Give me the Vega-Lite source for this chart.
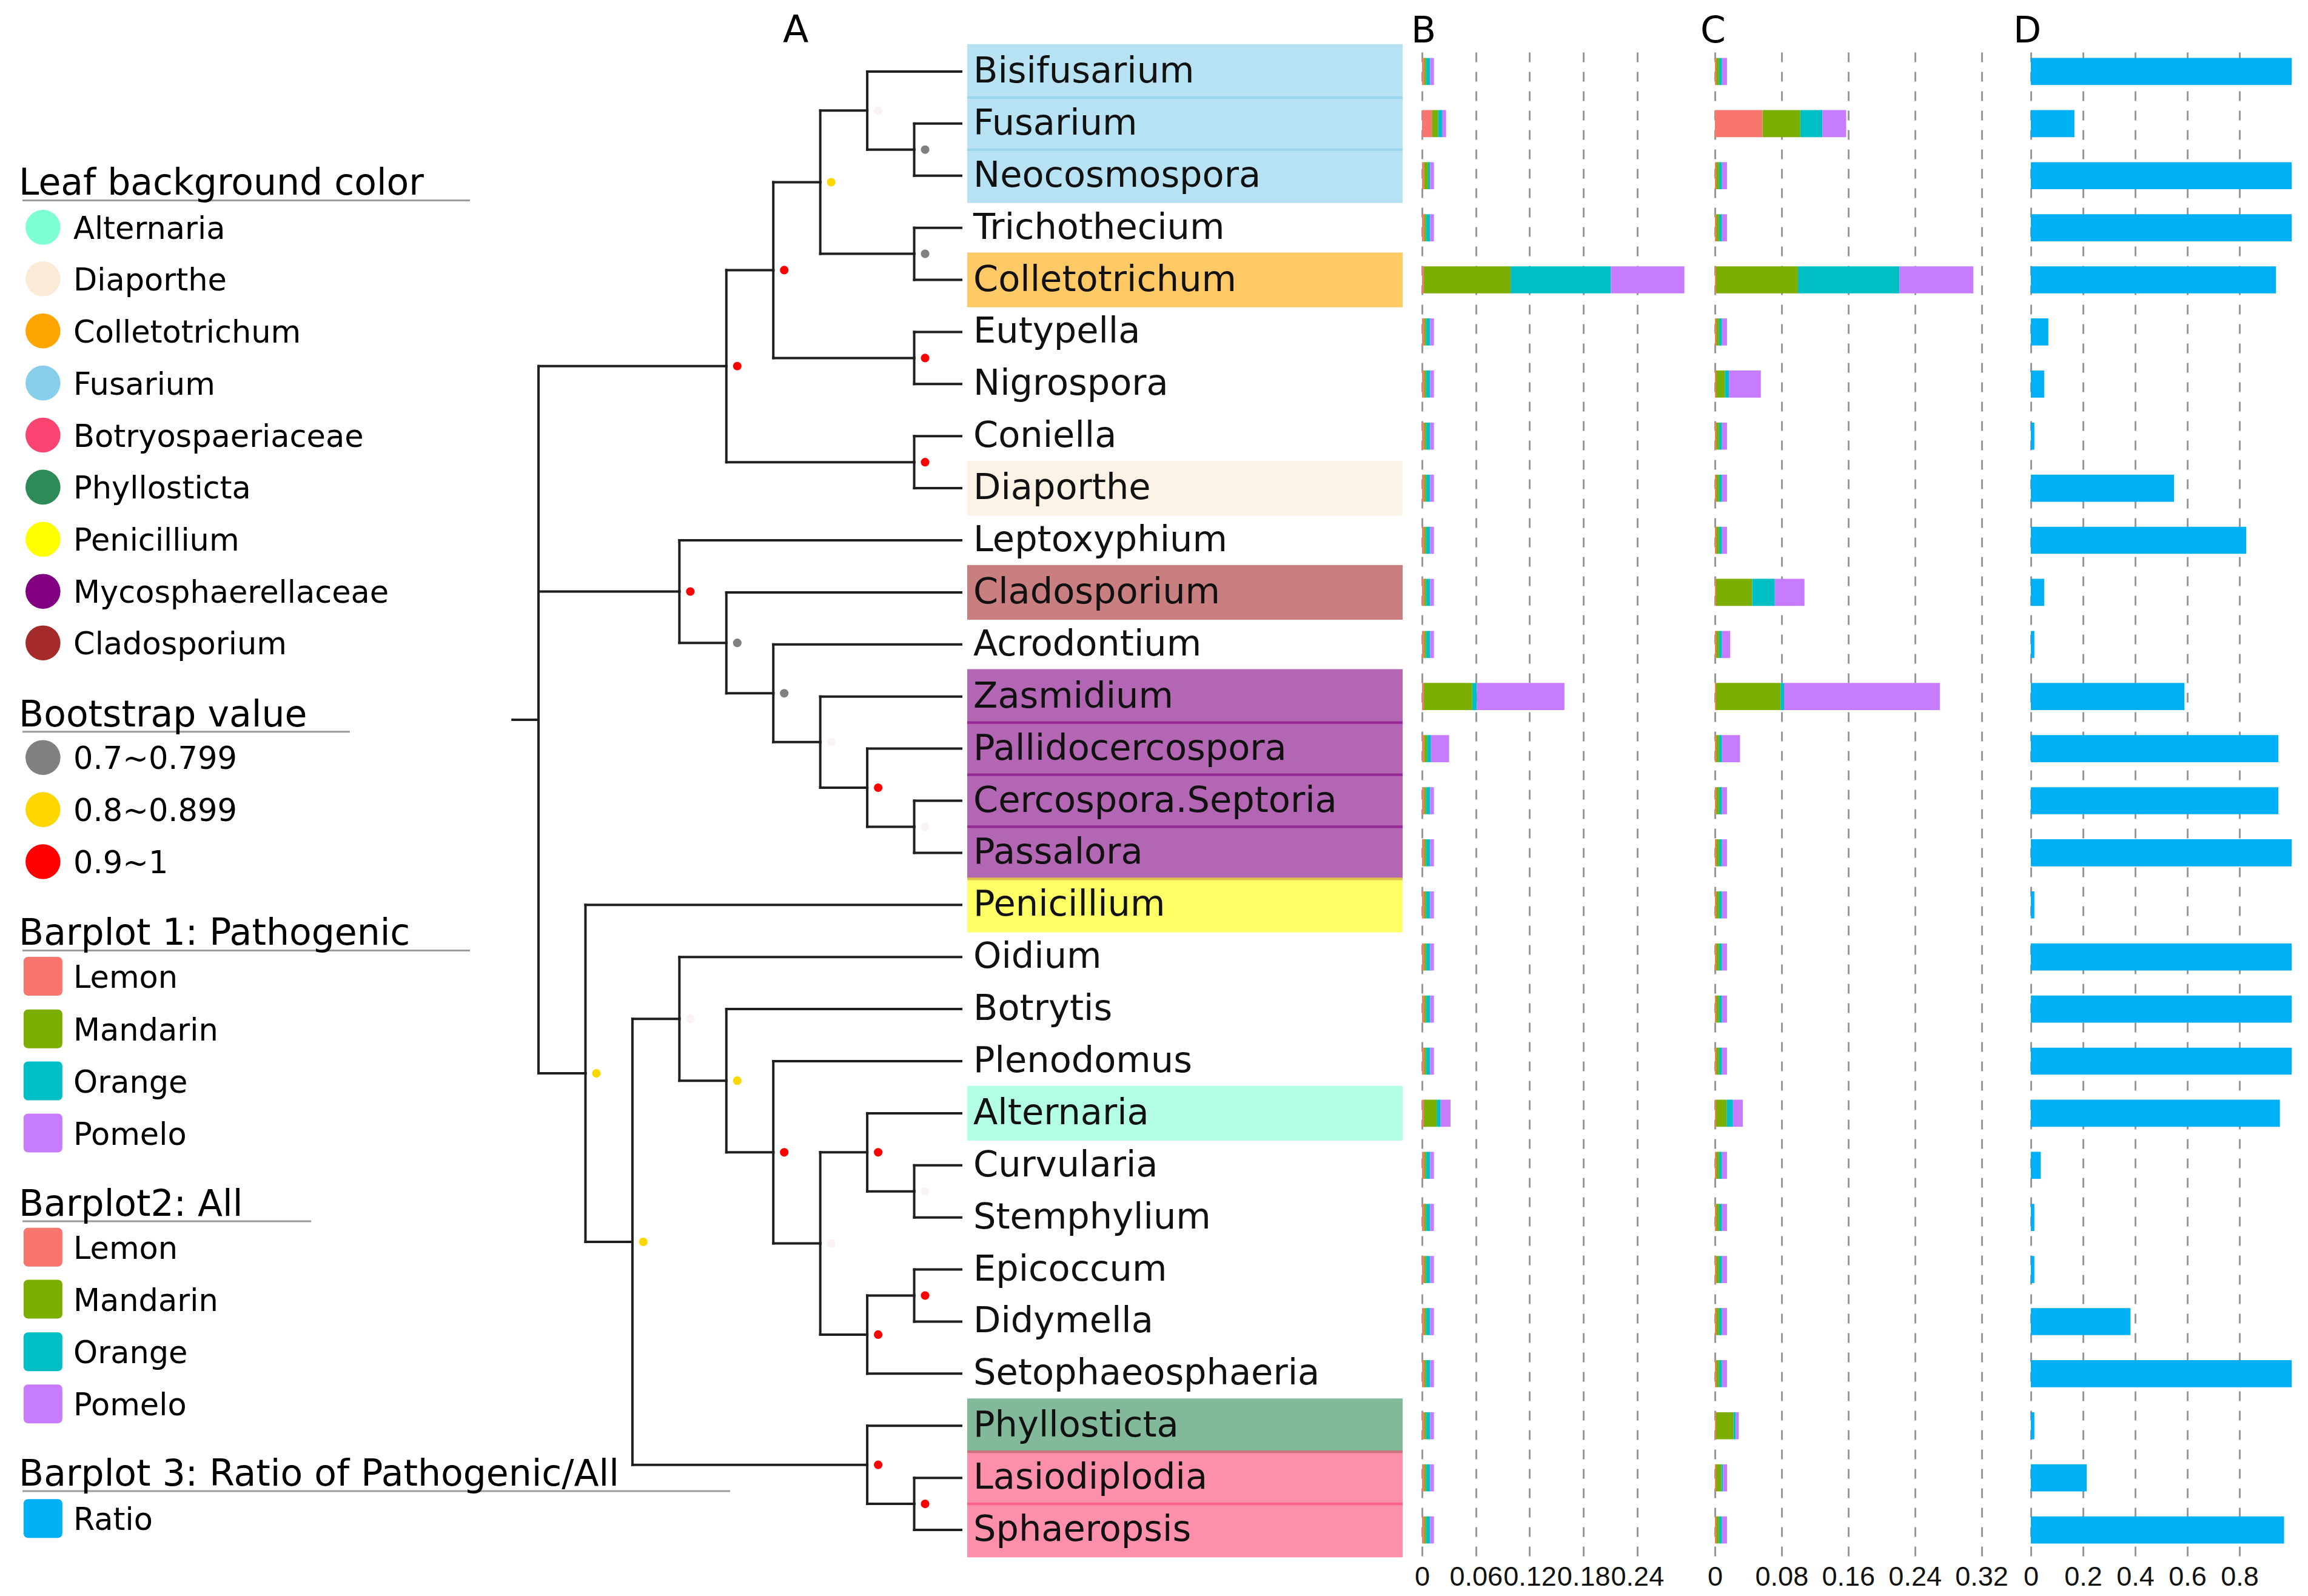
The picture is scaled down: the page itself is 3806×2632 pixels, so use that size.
{
  "$schema": "https://vega.github.io/schema/vega-lite/v6.json",
  "background": "white",
  "padding": {"left": 0, "top": 20, "right": 0, "bottom": 10},
  "bounds": "flush",
  "spacing": 32,
  "config": {
    "view": {"stroke": null},
    "font": "DejaVu Sans",
    "title": {"font": "DejaVu Sans", "fontWeight": "normal", "color": "#000000"},
    "axisX": {
      "grid": true, "gridDash": [16, 16], "gridColor": "#999999", "gridWidth": 3,
      "domain": false, "ticks": false, "tickSize": 0,
      "labelFontSize": 45, "labelFont": "Liberation Sans", "labelColor": "#111111",
      "labelPadding": 12, "labelFlush": false, "labelOverlap": false,
      "labelExpr": "format(datum.value, '~g')"
    }
  },
  "datasets": {
    "tree": [
      {"name": "root", "depth": 0, "y": 13.445, "pdepth": -0.55, "py": 13.445, "boot": null, "group": null},
      {"name": "n_C", "depth": 4, "y": 6.656, "pdepth": 0, "py": 13.445, "boot": "0.9~1", "group": null},
      {"name": "n_B", "depth": 5, "y": 4.8125, "pdepth": 4, "py": 6.656, "boot": "0.9~1", "group": null},
      {"name": "n_A", "depth": 6, "y": 3.125, "pdepth": 5, "py": 4.8125, "boot": "0.8~0.899", "group": null},
      {"name": "n_BFN", "depth": 7, "y": 1.75, "pdepth": 6, "py": 3.125, "boot": "<0.7", "group": null},
      {"name": "n_FN", "depth": 8, "y": 2.5, "pdepth": 7, "py": 1.75, "boot": "0.7~0.799", "group": null},
      {"name": "n_TC", "depth": 8, "y": 4.5, "pdepth": 6, "py": 3.125, "boot": "0.7~0.799", "group": null},
      {"name": "n_EN", "depth": 8, "y": 6.5, "pdepth": 5, "py": 4.8125, "boot": "0.9~1", "group": null},
      {"name": "n_CD", "depth": 8, "y": 8.5, "pdepth": 4, "py": 6.656, "boot": "0.9~1", "group": null},
      {"name": "n_D", "depth": 3, "y": 10.984, "pdepth": 0, "py": 13.445, "boot": "0.9~1", "group": null},
      {"name": "n_E", "depth": 4, "y": 11.969, "pdepth": 3, "py": 10.984, "boot": "0.7~0.799", "group": null},
      {"name": "n_F", "depth": 5, "y": 12.9375, "pdepth": 4, "py": 11.969, "boot": "0.7~0.799", "group": null},
      {"name": "n_G", "depth": 6, "y": 13.875, "pdepth": 5, "py": 12.9375, "boot": "<0.7", "group": null},
      {"name": "n_H", "depth": 7, "y": 14.75, "pdepth": 6, "py": 13.875, "boot": "0.9~1", "group": null},
      {"name": "n_I", "depth": 8, "y": 15.5, "pdepth": 7, "py": 14.75, "boot": "<0.7", "group": null},
      {"name": "n_J", "depth": 1, "y": 20.234, "pdepth": 0, "py": 13.445, "boot": "0.8~0.899", "group": null},
      {"name": "n_K", "depth": 2, "y": 23.469, "pdepth": 1, "py": 20.234, "boot": "0.8~0.899", "group": null},
      {"name": "n_L", "depth": 3, "y": 19.1875, "pdepth": 2, "py": 23.469, "boot": "<0.7", "group": null},
      {"name": "n_N", "depth": 4, "y": 20.375, "pdepth": 3, "py": 19.1875, "boot": "0.8~0.899", "group": null},
      {"name": "n_O", "depth": 5, "y": 21.75, "pdepth": 4, "py": 20.375, "boot": "0.9~1", "group": null},
      {"name": "n_P", "depth": 6, "y": 23.5, "pdepth": 5, "py": 21.75, "boot": "<0.7", "group": null},
      {"name": "n_Q", "depth": 7, "y": 21.75, "pdepth": 6, "py": 23.5, "boot": "0.9~1", "group": null},
      {"name": "n_S", "depth": 8, "y": 22.5, "pdepth": 7, "py": 21.75, "boot": "<0.7", "group": null},
      {"name": "n_R", "depth": 7, "y": 25.25, "pdepth": 6, "py": 23.5, "boot": "0.9~1", "group": null},
      {"name": "n_T", "depth": 8, "y": 24.5, "pdepth": 7, "py": 25.25, "boot": "0.9~1", "group": null},
      {"name": "n_M", "depth": 7, "y": 27.75, "pdepth": 2, "py": 23.469, "boot": "0.9~1", "group": null},
      {"name": "n_U", "depth": 8, "y": 28.5, "pdepth": 7, "py": 27.75, "boot": "0.9~1", "group": null},
      {"name": "Bisifusarium", "depth": 9, "y": 1, "pdepth": 7, "py": 1.75, "boot": null, "group": "Fusarium"},
      {"name": "Fusarium", "depth": 9, "y": 2, "pdepth": 8, "py": 2.5, "boot": null, "group": "Fusarium"},
      {"name": "Neocosmospora", "depth": 9, "y": 3, "pdepth": 8, "py": 2.5, "boot": null, "group": "Fusarium"},
      {"name": "Trichothecium", "depth": 9, "y": 4, "pdepth": 8, "py": 4.5, "boot": null, "group": null},
      {"name": "Colletotrichum", "depth": 9, "y": 5, "pdepth": 8, "py": 4.5, "boot": null, "group": "Colletotrichum"},
      {"name": "Eutypella", "depth": 9, "y": 6, "pdepth": 8, "py": 6.5, "boot": null, "group": null},
      {"name": "Nigrospora", "depth": 9, "y": 7, "pdepth": 8, "py": 6.5, "boot": null, "group": null},
      {"name": "Coniella", "depth": 9, "y": 8, "pdepth": 8, "py": 8.5, "boot": null, "group": null},
      {"name": "Diaporthe", "depth": 9, "y": 9, "pdepth": 8, "py": 8.5, "boot": null, "group": "Diaporthe"},
      {"name": "Leptoxyphium", "depth": 9, "y": 10, "pdepth": 3, "py": 10.984, "boot": null, "group": null},
      {"name": "Cladosporium", "depth": 9, "y": 11, "pdepth": 4, "py": 11.969, "boot": null, "group": "Cladosporium"},
      {"name": "Acrodontium", "depth": 9, "y": 12, "pdepth": 5, "py": 12.9375, "boot": null, "group": null},
      {"name": "Zasmidium", "depth": 9, "y": 13, "pdepth": 6, "py": 13.875, "boot": null, "group": "Mycosphaerellaceae"},
      {"name": "Pallidocercospora", "depth": 9, "y": 14, "pdepth": 7, "py": 14.75, "boot": null, "group": "Mycosphaerellaceae"},
      {"name": "Cercospora.Septoria", "depth": 9, "y": 15, "pdepth": 8, "py": 15.5, "boot": null, "group": "Mycosphaerellaceae"},
      {"name": "Passalora", "depth": 9, "y": 16, "pdepth": 8, "py": 15.5, "boot": null, "group": "Mycosphaerellaceae"},
      {"name": "Penicillium", "depth": 9, "y": 17, "pdepth": 1, "py": 20.234, "boot": null, "group": "Penicillium"},
      {"name": "Oidium", "depth": 9, "y": 18, "pdepth": 3, "py": 19.1875, "boot": null, "group": null},
      {"name": "Botrytis", "depth": 9, "y": 19, "pdepth": 4, "py": 20.375, "boot": null, "group": null},
      {"name": "Plenodomus", "depth": 9, "y": 20, "pdepth": 5, "py": 21.75, "boot": null, "group": null},
      {"name": "Alternaria", "depth": 9, "y": 21, "pdepth": 7, "py": 21.75, "boot": null, "group": "Alternaria"},
      {"name": "Curvularia", "depth": 9, "y": 22, "pdepth": 8, "py": 22.5, "boot": null, "group": null},
      {"name": "Stemphylium", "depth": 9, "y": 23, "pdepth": 8, "py": 22.5, "boot": null, "group": null},
      {"name": "Epicoccum", "depth": 9, "y": 24, "pdepth": 8, "py": 24.5, "boot": null, "group": null},
      {"name": "Didymella", "depth": 9, "y": 25, "pdepth": 8, "py": 24.5, "boot": null, "group": null},
      {"name": "Setophaeosphaeria", "depth": 9, "y": 26, "pdepth": 7, "py": 25.25, "boot": null, "group": null},
      {"name": "Phyllosticta", "depth": 9, "y": 27, "pdepth": 7, "py": 27.75, "boot": null, "group": "Phyllosticta"},
      {"name": "Lasiodiplodia", "depth": 9, "y": 28, "pdepth": 8, "py": 28.5, "boot": null, "group": "Botryospaeriaceae"},
      {"name": "Sphaeropsis", "depth": 9, "y": 29, "pdepth": 8, "py": 28.5, "boot": null, "group": "Botryospaeriaceae"}
    ],
    "legendTitles": [
      {"label": "Leaf background color", "line": 3.369, "x0": -10.989, "ul": -1.459},
      {"label": "Bootstrap value", "line": 13.57, "x0": -10.989, "ul": -4.016},
      {"label": "Barplot 1: Pathogenic", "line": 17.77, "x0": -10.989, "ul": -1.459},
      {"label": "Barplot2: All", "line": 22.97, "x0": -10.989, "ul": -4.842},
      {"label": "Barplot 3: Ratio of Pathogenic/All", "line": 28.15, "x0": -10.989, "ul": 4.08}
    ],
    "legendItems": [
      {"section": "Leaf background color", "label": "Alternaria", "line": 3.99},
      {"section": "Leaf background color", "label": "Diaporthe", "line": 4.98},
      {"section": "Leaf background color", "label": "Colletotrichum", "line": 5.98},
      {"section": "Leaf background color", "label": "Fusarium", "line": 6.98},
      {"section": "Leaf background color", "label": "Botryospaeriaceae", "line": 7.98},
      {"section": "Leaf background color", "label": "Phyllosticta", "line": 8.98},
      {"section": "Leaf background color", "label": "Penicillium", "line": 9.98},
      {"section": "Leaf background color", "label": "Mycosphaerellaceae", "line": 10.98},
      {"section": "Leaf background color", "label": "Cladosporium", "line": 11.97},
      {"section": "Bootstrap value", "label": "0.7~0.799", "line": 14.17},
      {"section": "Bootstrap value", "label": "0.8~0.899", "line": 15.17},
      {"section": "Bootstrap value", "label": "0.9~1", "line": 16.17},
      {"section": "Barplot 1: Pathogenic", "label": "Lemon", "line": 18.37},
      {"section": "Barplot 1: Pathogenic", "label": "Mandarin", "line": 19.38},
      {"section": "Barplot 1: Pathogenic", "label": "Orange", "line": 20.38},
      {"section": "Barplot 1: Pathogenic", "label": "Pomelo", "line": 21.38},
      {"section": "Barplot2: All", "label": "Lemon", "line": 23.57},
      {"section": "Barplot2: All", "label": "Mandarin", "line": 24.57},
      {"section": "Barplot2: All", "label": "Orange", "line": 25.58},
      {"section": "Barplot2: All", "label": "Pomelo", "line": 26.58},
      {"section": "Barplot 3: Ratio of Pathogenic/All", "label": "Ratio", "line": 28.78}
    ],
    "pathogenic": [
      {"genus": "Bisifusarium", "Lemon": 0.0022, "Mandarin": 0.0023, "Orange": 0.0045, "Pomelo": 0.0043},
      {"genus": "Fusarium", "Lemon": 0.011, "Mandarin": 0.0068, "Orange": 0.0045, "Pomelo": 0.0045},
      {"genus": "Neocosmospora", "Lemon": 0.0022, "Mandarin": 0.0045, "Orange": 0.0023, "Pomelo": 0.0043},
      {"genus": "Trichothecium", "Lemon": 0.0022, "Mandarin": 0.0023, "Orange": 0.0045, "Pomelo": 0.0043},
      {"genus": "Colletotrichum", "Lemon": 0.002, "Mandarin": 0.0968, "Orange": 0.1118, "Pomelo": 0.082},
      {"genus": "Eutypella", "Lemon": 0.0022, "Mandarin": 0.0023, "Orange": 0.0045, "Pomelo": 0.0043},
      {"genus": "Nigrospora", "Lemon": 0.0022, "Mandarin": 0.0023, "Orange": 0.0045, "Pomelo": 0.0043},
      {"genus": "Coniella", "Lemon": 0.0022, "Mandarin": 0.0023, "Orange": 0.0045, "Pomelo": 0.0043},
      {"genus": "Diaporthe", "Lemon": 0.0022, "Mandarin": 0.0023, "Orange": 0.0045, "Pomelo": 0.0043},
      {"genus": "Leptoxyphium", "Lemon": 0.0022, "Mandarin": 0.0023, "Orange": 0.0045, "Pomelo": 0.0043},
      {"genus": "Cladosporium", "Lemon": 0.0022, "Mandarin": 0.0023, "Orange": 0.0045, "Pomelo": 0.0043},
      {"genus": "Acrodontium", "Lemon": 0.0022, "Mandarin": 0.0023, "Orange": 0.0045, "Pomelo": 0.0043},
      {"genus": "Zasmidium", "Lemon": 0.002, "Mandarin": 0.054, "Orange": 0.0052, "Pomelo": 0.0976},
      {"genus": "Pallidocercospora", "Lemon": 0.0022, "Mandarin": 0.0033, "Orange": 0.0045, "Pomelo": 0.0202},
      {"genus": "Cercospora.Septoria", "Lemon": 0.0022, "Mandarin": 0.0023, "Orange": 0.0045, "Pomelo": 0.0043},
      {"genus": "Passalora", "Lemon": 0.0022, "Mandarin": 0.0023, "Orange": 0.0045, "Pomelo": 0.0043},
      {"genus": "Penicillium", "Lemon": 0.0022, "Mandarin": 0.0023, "Orange": 0.0045, "Pomelo": 0.0043},
      {"genus": "Oidium", "Lemon": 0.0022, "Mandarin": 0.0023, "Orange": 0.0045, "Pomelo": 0.0043},
      {"genus": "Botrytis", "Lemon": 0.0022, "Mandarin": 0.0023, "Orange": 0.0045, "Pomelo": 0.0043},
      {"genus": "Plenodomus", "Lemon": 0.0022, "Mandarin": 0.0023, "Orange": 0.0045, "Pomelo": 0.0043},
      {"genus": "Alternaria", "Lemon": 0.002, "Mandarin": 0.0143, "Orange": 0.0045, "Pomelo": 0.011},
      {"genus": "Curvularia", "Lemon": 0.0022, "Mandarin": 0.0023, "Orange": 0.0045, "Pomelo": 0.0043},
      {"genus": "Stemphylium", "Lemon": 0.0022, "Mandarin": 0.0023, "Orange": 0.0045, "Pomelo": 0.0043},
      {"genus": "Epicoccum", "Lemon": 0.0022, "Mandarin": 0.0023, "Orange": 0.0045, "Pomelo": 0.0043},
      {"genus": "Didymella", "Lemon": 0.0022, "Mandarin": 0.0023, "Orange": 0.0045, "Pomelo": 0.0043},
      {"genus": "Setophaeosphaeria", "Lemon": 0.0022, "Mandarin": 0.0023, "Orange": 0.0045, "Pomelo": 0.0043},
      {"genus": "Phyllosticta", "Lemon": 0.0022, "Mandarin": 0.0023, "Orange": 0.0045, "Pomelo": 0.0043},
      {"genus": "Lasiodiplodia", "Lemon": 0.0022, "Mandarin": 0.0023, "Orange": 0.0045, "Pomelo": 0.0043},
      {"genus": "Sphaeropsis", "Lemon": 0.0022, "Mandarin": 0.0023, "Orange": 0.0045, "Pomelo": 0.0043}
    ],
    "all": [
      {"genus": "Bisifusarium", "Lemon": 0.0015, "Mandarin": 0.0035, "Orange": 0.0035, "Pomelo": 0.006},
      {"genus": "Fusarium", "Lemon": 0.0572, "Mandarin": 0.0453, "Orange": 0.0265, "Pomelo": 0.0286},
      {"genus": "Neocosmospora", "Lemon": 0.0015, "Mandarin": 0.0035, "Orange": 0.0035, "Pomelo": 0.006},
      {"genus": "Trichothecium", "Lemon": 0.0015, "Mandarin": 0.0035, "Orange": 0.0035, "Pomelo": 0.006},
      {"genus": "Colletotrichum", "Lemon": 0.0014, "Mandarin": 0.0983, "Orange": 0.122, "Pomelo": 0.0886},
      {"genus": "Eutypella", "Lemon": 0.0015, "Mandarin": 0.0035, "Orange": 0.0035, "Pomelo": 0.006},
      {"genus": "Nigrospora", "Lemon": 0.0014, "Mandarin": 0.0105, "Orange": 0.0049, "Pomelo": 0.0383},
      {"genus": "Coniella", "Lemon": 0.0015, "Mandarin": 0.0035, "Orange": 0.0035, "Pomelo": 0.006},
      {"genus": "Diaporthe", "Lemon": 0.0015, "Mandarin": 0.0035, "Orange": 0.0035, "Pomelo": 0.006},
      {"genus": "Leptoxyphium", "Lemon": 0.0015, "Mandarin": 0.0035, "Orange": 0.0035, "Pomelo": 0.006},
      {"genus": "Cladosporium", "Lemon": 0.0014, "Mandarin": 0.0433, "Orange": 0.0272, "Pomelo": 0.0356},
      {"genus": "Acrodontium", "Lemon": 0.0015, "Mandarin": 0.0035, "Orange": 0.0035, "Pomelo": 0.0098},
      {"genus": "Zasmidium", "Lemon": 0.0014, "Mandarin": 0.0774, "Orange": 0.0042, "Pomelo": 0.187},
      {"genus": "Pallidocercospora", "Lemon": 0.0015, "Mandarin": 0.0035, "Orange": 0.0035, "Pomelo": 0.0216},
      {"genus": "Cercospora.Septoria", "Lemon": 0.0015, "Mandarin": 0.0035, "Orange": 0.0035, "Pomelo": 0.006},
      {"genus": "Passalora", "Lemon": 0.0015, "Mandarin": 0.0035, "Orange": 0.0035, "Pomelo": 0.006},
      {"genus": "Penicillium", "Lemon": 0.0015, "Mandarin": 0.0035, "Orange": 0.0035, "Pomelo": 0.006},
      {"genus": "Oidium", "Lemon": 0.0015, "Mandarin": 0.0035, "Orange": 0.0035, "Pomelo": 0.006},
      {"genus": "Botrytis", "Lemon": 0.0015, "Mandarin": 0.0035, "Orange": 0.0035, "Pomelo": 0.006},
      {"genus": "Plenodomus", "Lemon": 0.0015, "Mandarin": 0.0035, "Orange": 0.0035, "Pomelo": 0.006},
      {"genus": "Alternaria", "Lemon": 0.0014, "Mandarin": 0.0126, "Orange": 0.0077, "Pomelo": 0.0118},
      {"genus": "Curvularia", "Lemon": 0.0015, "Mandarin": 0.0035, "Orange": 0.0035, "Pomelo": 0.006},
      {"genus": "Stemphylium", "Lemon": 0.0015, "Mandarin": 0.0035, "Orange": 0.0035, "Pomelo": 0.006},
      {"genus": "Epicoccum", "Lemon": 0.0015, "Mandarin": 0.0035, "Orange": 0.0035, "Pomelo": 0.006},
      {"genus": "Didymella", "Lemon": 0.0015, "Mandarin": 0.0035, "Orange": 0.0035, "Pomelo": 0.006},
      {"genus": "Setophaeosphaeria", "Lemon": 0.0015, "Mandarin": 0.0035, "Orange": 0.0035, "Pomelo": 0.006},
      {"genus": "Phyllosticta", "Lemon": 0.0014, "Mandarin": 0.0209, "Orange": 0.0028, "Pomelo": 0.0035},
      {"genus": "Lasiodiplodia", "Lemon": 0.0014, "Mandarin": 0.0063, "Orange": 0.0021, "Pomelo": 0.0049},
      {"genus": "Sphaeropsis", "Lemon": 0.0015, "Mandarin": 0.0035, "Orange": 0.0035, "Pomelo": 0.006}
    ],
    "ratio": [
      {"genus": "Bisifusarium", "ratio": 1.0},
      {"genus": "Fusarium", "ratio": 0.167},
      {"genus": "Neocosmospora", "ratio": 1.0},
      {"genus": "Trichothecium", "ratio": 1.0},
      {"genus": "Colletotrichum", "ratio": 0.94},
      {"genus": "Eutypella", "ratio": 0.067},
      {"genus": "Nigrospora", "ratio": 0.051},
      {"genus": "Coniella", "ratio": 0.0134},
      {"genus": "Diaporthe", "ratio": 0.549},
      {"genus": "Leptoxyphium", "ratio": 0.826},
      {"genus": "Cladosporium", "ratio": 0.051},
      {"genus": "Acrodontium", "ratio": 0.0134},
      {"genus": "Zasmidium", "ratio": 0.589},
      {"genus": "Pallidocercospora", "ratio": 0.949},
      {"genus": "Cercospora.Septoria", "ratio": 0.949},
      {"genus": "Passalora", "ratio": 1.0},
      {"genus": "Penicillium", "ratio": 0.0134},
      {"genus": "Oidium", "ratio": 1.0},
      {"genus": "Botrytis", "ratio": 1.0},
      {"genus": "Plenodomus", "ratio": 1.0},
      {"genus": "Alternaria", "ratio": 0.955},
      {"genus": "Curvularia", "ratio": 0.038},
      {"genus": "Stemphylium", "ratio": 0.0134},
      {"genus": "Epicoccum", "ratio": 0.0134},
      {"genus": "Didymella", "ratio": 0.382},
      {"genus": "Setophaeosphaeria", "ratio": 1.0},
      {"genus": "Phyllosticta", "ratio": 0.0134},
      {"genus": "Lasiodiplodia", "ratio": 0.214},
      {"genus": "Sphaeropsis", "ratio": 0.971}
    ]
  },
  "hconcat": [
    {
      "width": 1563,
      "height": 2491,
      "title": {"text": "A", "anchor": "start", "frame": "group", "dx": 1291, "offset": -57, "baseline": "alphabetic", "fontSize": 62},
      "layer": [
        {
          "data": {"name": "legendTitles"},
          "mark": {"type": "rule", "color": "#9a9a9a", "strokeWidth": 3, "yOffset": 9},
          "encoding": {
            "x": {"field": "x0", "type": "quantitative", "scale": {"domain": [-11.467, 8.716], "nice": false, "zero": false}, "axis": null},
            "x2": {"field": "ul"},
            "y": {"field": "line", "type": "quantitative", "scale": {"domain": [0.5, 29.5], "reverse": true, "nice": false, "zero": false}, "axis": null}
          }
        },
        {
          "data": {"name": "legendTitles"},
          "mark": {"type": "text", "align": "left", "baseline": "alphabetic", "fontSize": 60, "color": "#000000", "dx": -6},
          "encoding": {
            "x": {"field": "x0", "type": "quantitative", "scale": {"domain": [-11.467, 8.716], "nice": false, "zero": false}, "axis": null},
            "y": {"field": "line", "type": "quantitative", "scale": {"domain": [0.5, 29.5], "reverse": true, "nice": false, "zero": false}, "axis": null},
            "text": {"field": "label"}
          }
        },
        {
          "data": {"name": "legendItems"},
          "transform": [{"filter": "datum.section == 'Leaf background color' || datum.section == 'Bootstrap value'"}],
          "mark": {"type": "point", "shape": "circle", "filled": true, "opacity": 1, "size": 3318},
          "encoding": {
            "x": {"datum": -10.552, "type": "quantitative", "scale": {"domain": [-11.467, 8.716], "nice": false, "zero": false}, "axis": null},
            "y": {"field": "line", "type": "quantitative", "scale": {"domain": [0.5, 29.5], "reverse": true, "nice": false, "zero": false}, "axis": null},
            "color": {"field": "label", "type": "nominal", "legend": null,
              "scale": {"domain": ["Alternaria","Diaporthe","Colletotrichum","Fusarium","Botryospaeriaceae","Phyllosticta","Penicillium","Mycosphaerellaceae","Cladosporium","0.7~0.799","0.8~0.899","0.9~1","<0.7","Lemon","Mandarin","Orange","Pomelo","Ratio"],
                        "range": ["#7FFFD4","#FAEBD7","#FFA500","#87CEEB","#FA4471","#2E8B57","#FFFF00","#800080","#A52A2A","#808080","#FFD700","#FF0000","#FBF3F3","#F8766D","#7CAE00","#00BFC4","#C77CFF","#00B0F6"]}}
          }
        },
        {
          "data": {"name": "legendItems"},
          "transform": [{"filter": "datum.section != 'Leaf background color' && datum.section != 'Bootstrap value'"}],
          "mark": {"type": "point", "shape": "M-1,-0.76C-1,-0.9,-0.9,-1,-0.76,-1L0.76,-1C0.9,-1,1,-0.9,1,-0.76L1,0.76C1,0.9,0.9,1,0.76,1L-0.76,1C-0.9,1,-1,0.9,-1,0.76Z", "filled": true, "opacity": 1, "size": 4096},
          "encoding": {
            "x": {"datum": -10.552, "type": "quantitative", "scale": {"domain": [-11.467, 8.716], "nice": false, "zero": false}, "axis": null},
            "y": {"field": "line", "type": "quantitative", "scale": {"domain": [0.5, 29.5], "reverse": true, "nice": false, "zero": false}, "axis": null},
            "color": {"field": "label", "type": "nominal", "legend": null,
              "scale": {"domain": ["Alternaria","Diaporthe","Colletotrichum","Fusarium","Botryospaeriaceae","Phyllosticta","Penicillium","Mycosphaerellaceae","Cladosporium","0.7~0.799","0.8~0.899","0.9~1","<0.7","Lemon","Mandarin","Orange","Pomelo","Ratio"],
                        "range": ["#7FFFD4","#FAEBD7","#FFA500","#87CEEB","#FA4471","#2E8B57","#FFFF00","#800080","#A52A2A","#808080","#FFD700","#FF0000","#FBF3F3","#F8766D","#7CAE00","#00BFC4","#C77CFF","#00B0F6"]}}
          }
        },
        {
          "data": {"name": "legendItems"},
          "mark": {"type": "text", "align": "left", "baseline": "middle", "dy": 4, "fontSize": 51, "color": "#000000"},
          "encoding": {
            "x": {"datum": -9.904, "type": "quantitative", "scale": {"domain": [-11.467, 8.716], "nice": false, "zero": false}, "axis": null},
            "y": {"field": "line", "type": "quantitative", "scale": {"domain": [0.5, 29.5], "reverse": true, "nice": false, "zero": false}, "axis": null},
            "text": {"field": "label"}
          }
        },
        {
          "data": {"name": "tree"},
          "mark": {"type": "rule", "color": "#1f1f1f", "strokeWidth": 4, "strokeCap": "square"},
          "encoding": {
            "x": {"field": "pdepth", "type": "quantitative", "scale": {"domain": [-11.467, 8.716], "nice": false, "zero": false}, "axis": null},
            "x2": {"field": "depth"},
            "y": {"field": "y", "type": "quantitative", "scale": {"domain": [0.5, 29.5], "reverse": true, "nice": false, "zero": false}, "axis": null}
          }
        },
        {
          "data": {"name": "tree"},
          "mark": {"type": "rule", "color": "#1f1f1f", "strokeWidth": 4, "strokeCap": "square"},
          "encoding": {
            "x": {"field": "pdepth", "type": "quantitative", "scale": {"domain": [-11.467, 8.716], "nice": false, "zero": false}, "axis": null},
            "y": {"field": "py", "type": "quantitative", "scale": {"domain": [0.5, 29.5], "reverse": true, "nice": false, "zero": false}, "axis": null},
            "y2": {"field": "y"}
          }
        },
        {
          "data": {"name": "tree"},
          "transform": [{"filter": "datum.boot != null"}],
          "mark": {"type": "circle", "size": 200, "opacity": 1, "xOffset": 18},
          "encoding": {
            "x": {"field": "depth", "type": "quantitative", "scale": {"domain": [-11.467, 8.716], "nice": false, "zero": false}, "axis": null},
            "y": {"field": "y", "type": "quantitative", "scale": {"domain": [0.5, 29.5], "reverse": true, "nice": false, "zero": false}, "axis": null},
            "color": {"field": "boot", "type": "nominal", "legend": null,
              "scale": {"domain": ["Alternaria","Diaporthe","Colletotrichum","Fusarium","Botryospaeriaceae","Phyllosticta","Penicillium","Mycosphaerellaceae","Cladosporium","0.7~0.799","0.8~0.899","0.9~1","<0.7","Lemon","Mandarin","Orange","Pomelo","Ratio"],
                        "range": ["#7FFFD4","#FAEBD7","#FFA500","#87CEEB","#FA4471","#2E8B57","#FFFF00","#800080","#A52A2A","#808080","#FFD700","#FF0000","#FBF3F3","#F8766D","#7CAE00","#00BFC4","#C77CFF","#00B0F6"]}}
          }
        }
      ]
    },
    {
      "width": 718,
      "height": 2491,
      "data": {"name": "tree"},
      "transform": [{"filter": "datum.depth == 9"}],
      "layer": [
        {
          "transform": [{"filter": "datum.group != null"}],
          "mark": {"type": "rect", "fillOpacity": 0.6, "height": {"band": 1.05}},
          "encoding": {
            "y": {"field": "name", "type": "nominal", "axis": null,
              "scale": {"domain": ["Bisifusarium","Fusarium","Neocosmospora","Trichothecium","Colletotrichum","Eutypella","Nigrospora","Coniella","Diaporthe","Leptoxyphium","Cladosporium","Acrodontium","Zasmidium","Pallidocercospora","Cercospora.Septoria","Passalora","Penicillium","Oidium","Botrytis","Plenodomus","Alternaria","Curvularia","Stemphylium","Epicoccum","Didymella","Setophaeosphaeria","Phyllosticta","Lasiodiplodia","Sphaeropsis"], "paddingInner": 0, "paddingOuter": 0}},
            "fill": {"field": "group", "type": "nominal", "legend": null,
              "scale": {"domain": ["Alternaria","Diaporthe","Colletotrichum","Fusarium","Botryospaeriaceae","Phyllosticta","Penicillium","Mycosphaerellaceae","Cladosporium"],
                        "range": ["#7FFFD4","#FAEBD7","#FFA500","#87CEEB","#FA4471","#2E8B57","#FFFF00","#800080","#A52A2A"]}}
          }
        },
        {
          "mark": {"type": "text", "align": "left", "baseline": "middle", "dx": 10, "fontSize": 59, "color": "#111111"},
          "encoding": {
            "x": {"datum": 0, "type": "quantitative", "scale": {"domain": [0, 1], "nice": false, "zero": false}, "axis": null},
            "y": {"field": "name", "type": "nominal", "axis": null,
              "scale": {"domain": ["Bisifusarium","Fusarium","Neocosmospora","Trichothecium","Colletotrichum","Eutypella","Nigrospora","Coniella","Diaporthe","Leptoxyphium","Cladosporium","Acrodontium","Zasmidium","Pallidocercospora","Cercospora.Septoria","Passalora","Penicillium","Oidium","Botrytis","Plenodomus","Alternaria","Curvularia","Stemphylium","Epicoccum","Didymella","Setophaeosphaeria","Phyllosticta","Lasiodiplodia","Sphaeropsis"], "paddingInner": 0, "paddingOuter": 0}},
            "text": {"field": "name"}
          }
        }
      ],
      "resolve": {"scale": {"x": "independent"}}
    },
    {
      "width": 451,
      "height": 2491,
      "title": {"text": "B", "anchor": "start", "frame": "group", "dx": -18, "offset": -55, "baseline": "alphabetic", "fontSize": 60},
      "data": {"name": "pathogenic"},
      "transform": [{"fold": ["Lemon", "Mandarin", "Orange", "Pomelo"], "as": ["fruit", "value"]}],
      "mark": {"type": "bar"},
      "encoding": {
        "y": {"field": "genus", "type": "nominal", "axis": null,
          "scale": {"domain": ["Bisifusarium","Fusarium","Neocosmospora","Trichothecium","Colletotrichum","Eutypella","Nigrospora","Coniella","Diaporthe","Leptoxyphium","Cladosporium","Acrodontium","Zasmidium","Pallidocercospora","Cercospora.Septoria","Passalora","Penicillium","Oidium","Botrytis","Plenodomus","Alternaria","Curvularia","Stemphylium","Epicoccum","Didymella","Setophaeosphaeria","Phyllosticta","Lasiodiplodia","Sphaeropsis"], "paddingInner": 0.48, "paddingOuter": 0.24}},
        "x": {"field": "value", "type": "quantitative", "stack": "zero",
          "scale": {"domain": [0, 0.305], "nice": false, "zero": false},
          "axis": {"values": [0, 0.06, 0.12, 0.18, 0.24], "title": null}},
        "fill": {"field": "fruit", "type": "nominal", "legend": null,
          "scale": {"domain": ["Lemon", "Mandarin", "Orange", "Pomelo"], "range": ["#F8766D", "#7CAE00", "#00BFC4", "#C77CFF"]}}
      }
    },
    {
      "width": 489,
      "height": 2491,
      "title": {"text": "C", "anchor": "start", "frame": "group", "dx": -24, "offset": -55, "baseline": "alphabetic", "fontSize": 60},
      "data": {"name": "all"},
      "transform": [{"fold": ["Lemon", "Mandarin", "Orange", "Pomelo"], "as": ["fruit", "value"]}],
      "mark": {"type": "bar"},
      "encoding": {
        "y": {"field": "genus", "type": "nominal", "axis": null,
          "scale": {"domain": ["Bisifusarium","Fusarium","Neocosmospora","Trichothecium","Colletotrichum","Eutypella","Nigrospora","Coniella","Diaporthe","Leptoxyphium","Cladosporium","Acrodontium","Zasmidium","Pallidocercospora","Cercospora.Septoria","Passalora","Penicillium","Oidium","Botrytis","Plenodomus","Alternaria","Curvularia","Stemphylium","Epicoccum","Didymella","Setophaeosphaeria","Phyllosticta","Lasiodiplodia","Sphaeropsis"], "paddingInner": 0.48, "paddingOuter": 0.24}},
        "x": {"field": "value", "type": "quantitative", "stack": "zero",
          "scale": {"domain": [0, 0.356], "nice": false, "zero": false},
          "axis": {"values": [0, 0.08, 0.16, 0.24, 0.32], "title": null}},
        "fill": {"field": "fruit", "type": "nominal", "legend": null,
          "scale": {"domain": ["Lemon", "Mandarin", "Orange", "Pomelo"], "range": ["#F8766D", "#7CAE00", "#00BFC4", "#C77CFF"]}}
      }
    },
    {
      "width": 430,
      "height": 2491,
      "title": {"text": "D", "anchor": "start", "frame": "group", "dx": -29, "offset": -55, "baseline": "alphabetic", "fontSize": 60},
      "data": {"name": "ratio"},
      "mark": {"type": "bar", "color": "#00B0F6"},
      "encoding": {
        "y": {"field": "genus", "type": "nominal", "axis": null,
          "scale": {"domain": ["Bisifusarium","Fusarium","Neocosmospora","Trichothecium","Colletotrichum","Eutypella","Nigrospora","Coniella","Diaporthe","Leptoxyphium","Cladosporium","Acrodontium","Zasmidium","Pallidocercospora","Cercospora.Septoria","Passalora","Penicillium","Oidium","Botrytis","Plenodomus","Alternaria","Curvularia","Stemphylium","Epicoccum","Didymella","Setophaeosphaeria","Phyllosticta","Lasiodiplodia","Sphaeropsis"], "paddingInner": 0.48, "paddingOuter": 0.24}},
        "x": {"field": "ratio", "type": "quantitative",
          "scale": {"domain": [0, 1], "nice": false, "zero": false},
          "axis": {"values": [0, 0.2, 0.4, 0.6, 0.8], "title": null}}
      }
    }
  ],
  "resolve": {"scale": {"x": "independent", "y": "independent", "color": "independent", "fill": "independent"}}
}
